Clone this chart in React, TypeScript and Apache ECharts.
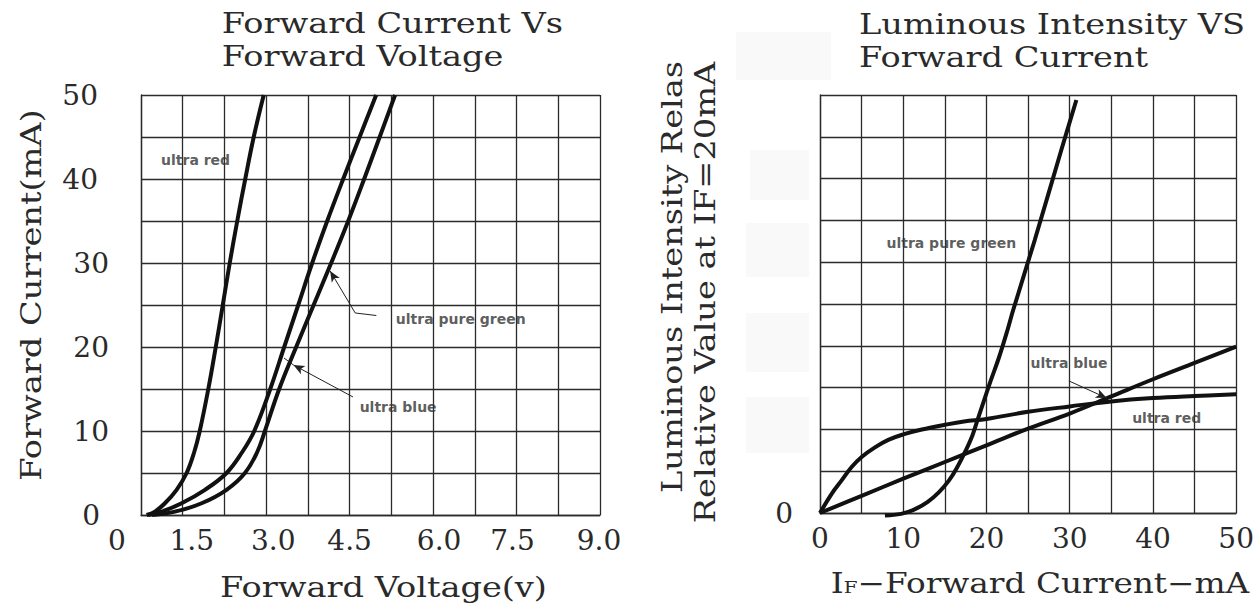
import React, { useEffect, useRef } from "react";
import * as echarts from "echarts";

// ---------- DATA ----------
// Left chart: Forward Current (mA) vs Forward Voltage (V)
const leftUltraRed: [number, number][] = [
  [0.85, 0], [1.0, 0.4], [1.18, 1.4], [1.39, 3], [1.57, 5], [1.707, 7.5], [1.806, 10],
  [1.96, 15], [2.094, 20], [2.22, 25], [2.345, 30], [2.48, 35], [2.624, 40], [2.776, 45], [2.956, 50],
];
const leftUltraBlue: [number, number][] = [
  [0.88, 0], [1.12, 0.4], [1.48, 1.4], [1.9, 3], [2.288, 5], [2.57, 7.5], [2.786, 10],
  [3.073, 15], [3.324, 20], [3.576, 25], [3.827, 30], [4.097, 35], [4.384, 40], [4.68, 45], [4.977, 50],
];
const leftUltraPureGreen: [number, number][] = [
  [0.95, 0], [1.36, 0.4], [1.84, 1.4], [2.288, 3], [2.618, 5], [2.839, 7.5], [2.977, 10],
  [3.234, 15], [3.539, 20], [3.853, 25], [4.168, 30], [4.474, 35], [4.761, 40], [5.04, 45], [5.317, 50],
];
const leftXTickValues = [0.75, 1.5, 3, 4.5, 6, 7.5, 9];
const leftXTickLabels = ["0", "1.5", "3.0", "4.5", "6.0", "7.5", "9.0"];
const leftYTickLabels = ["0", "10", "20", "30", "40", "50"];
const leftLabels: [number, number, string][] = [
  [1.11, 42.3, "ultra red"],
  [5.33, 23.3, "ultra pure green"],
  [4.68, 12.8, "ultra blue"],
];
const leftGreenLeader: [number, number][] = [[4.98, 23.75], [4.6, 24.05], [4.15, 29.05]];
const leftBlueLeader: [number, number][] = [[4.56, 14.05], [3.49, 17.86], [3.32, 18.69]];

// Right chart: relative luminous intensity vs forward current (mA)
const rightUltraPureGreen: [number, number][] = [
  [7.8, -0.06], [9.75, -0.02], [11.3, 0.08], [12.9, 0.26], [14.3, 0.5], [15.5, 0.78],
  [16.5, 1.1], [17.5, 1.49], [18.3, 1.85], [18.9, 2.21], [19.7, 2.69], [20.5, 3.16],
  [21.5, 3.72], [22.5, 4.36], [23.2, 4.85], [25.8, 6.53], [29.0, 8.69], [30.8, 9.88],
];
const rightUltraRed: [number, number][] = [
  [0, 0], [1.4, 0.46], [2.6, 0.78], [3.8, 1.1], [5, 1.34], [6.6, 1.57], [8.2, 1.75],
  [10, 1.88], [12.1, 1.99], [15, 2.11], [17.3, 2.19], [20, 2.25], [25, 2.42], [30, 2.55],
  [35, 2.67], [40, 2.75], [45, 2.8], [50, 2.84],
];
const rightUltraBlue: [number, number][] = [
  [0, 0], [5, 0.41], [10, 0.82], [15, 1.22], [20, 1.62], [25, 2.02], [30, 2.38],
  [35, 2.79], [40, 3.2], [45, 3.59], [50, 3.98],
];
const rightXTickLabels = ["0", "10", "20", "30", "40", "50"];
const rightYTickLabels = ["0"];
const rightLabels: [number, number, string][] = [
  [7.98, 6.47, "ultra pure green"],
  [25.3, 3.58, "ultra blue"],
  [37.5, 2.27, "ultra red"],
];
const rightBlueLeader: [number, number][] = [[29.9, 3.16], [34.45, 2.75]];

// ---------- STYLE ----------
const SERIF = '"DejaVu Serif", serif';
const SANS = '"DejaVu Sans", sans-serif';
const INK = "#111";
const GRID = "#2b2b2b";
const TXT = "#2a2a2a";

function leaderSegments(pts: [number, number][], arrowAt: number) {
  const segs: any[] = [];
  for (let i = 0; i < pts.length - 1; i++) {
    segs.push([
      { coord: pts[i], symbol: "none" },
      { coord: pts[i + 1], symbol: i + 1 === arrowAt ? "arrow" : "none", symbolSize: [7, 11] },
    ]);
  }
  return segs;
}

function curve(name: string, data: [number, number][], idx: number) {
  return {
    type: "line",
    name,
    xAxisIndex: idx,
    yAxisIndex: idx,
    data,
    smooth: 0.4,
    symbol: "none",
    clip: false,
    lineStyle: { color: INK, width: 4 },
    z: 3,
  };
}

function annotations(labels: [number, number, string][], idx: number, segs: any[]) {
  return {
    type: "scatter",
    xAxisIndex: idx,
    yAxisIndex: idx,
    data: labels,
    symbolSize: 0,
    silent: true,
    z: 4,
    label: {
      show: true,
      position: "right",
      distance: 0,
      formatter: (p: any) => p.value[2],
      fontFamily: SANS,
      fontWeight: "bold",
      fontSize: 14,
      color: "#333",
    },
    markLine: {
      silent: true,
      animation: false,
      label: { show: false },
      lineStyle: { color: "#222", width: 1, type: "solid" },
      emphasis: { disabled: true },
      data: segs,
    },
  };
}

const tick = (c: string, w = 1.3) => ({ show: true, lineStyle: { color: c, width: w, type: "solid" as const } });
const lbl = { fontFamily: SERIF, fontSize: 28, color: TXT };

function buildOption() {
  const xLeftRich: Record<string, any> = {
    x0: { ...lbl, padding: [0, 48, 0, 0] },
    x1: { ...lbl, padding: [0, 0, 0, 18] },
    x2: { ...lbl, padding: [0, 0, 0, 14] },
    x3: { ...lbl },
    x4: { ...lbl, padding: [0, 0, 0, 12] },
    x5: { ...lbl, padding: [0, 8, 0, 0] },
    x6: { ...lbl, padding: [0, 2, 0, 0] },
  };
  const yLeftRich: Record<string, any> = {
    y0: { ...lbl, padding: [0, 9, 0, 0] },
    y10: { ...lbl },
    y20: { ...lbl },
    y30: { ...lbl },
    y40: { ...lbl, padding: [0, 11, 0, 0] },
    y50: { ...lbl, padding: [0, 11, 0, 0] },
  };

  const titleText = (x: number, y: number, text: string) => ({
    type: "text",
    x,
    y,
    scaleX: 1.2,
    z: 10,
    style: { text, fontFamily: SERIF, fontSize: 28, lineHeight: 33.4, fill: TXT, align: "left", verticalAlign: "middle" },
  });
  const nameText = (x: number, y: number, text: string, rot = 0) => ({
    type: "text",
    x,
    y,
    rotation: rot,
    scaleX: 1.2,
    z: 10,
    style: { text, fontFamily: SERIF, fontSize: 28, fill: TXT, align: "center", verticalAlign: "middle" },
  });
  const faint = (x: number, y: number, w: number, h: number) => ({
    type: "rect",
    z: -10,
    shape: { x, y, width: w, height: h },
    style: { fill: "#f9f9f9" },
  });

  return {
    animation: false,
    backgroundColor: "#fff",
    grid: [
      { left: 141, top: 95, width: 459, height: 420 },
      { left: 820, top: 95, width: 418, height: 418 },
    ],
    xAxis: [
      {
        gridIndex: 0,
        type: "value",
        min: 0.75,
        max: 9,
        interval: 0.75,
        axisLine: tick(GRID),
        axisTick: { show: false },
        splitLine: tick(GRID),
        axisLabel: {
          ...lbl,
          margin: 11,
          rich: xLeftRich,
          formatter: (v: number) => {
            const i = leftXTickValues.findIndex((t) => Math.abs(t - v) < 1e-6);
            return i < 0 ? "" : `{x${i}|${leftXTickLabels[i]}}`;
          },
        },
      },
      {
        gridIndex: 1,
        type: "value",
        min: 0,
        max: 50,
        interval: 5,
        axisLine: tick(GRID),
        axisTick: { show: false },
        splitLine: tick(GRID),
        axisLabel: {
          ...lbl,
          margin: 11,
          formatter: (v: number) => (rightXTickLabels.includes(String(v)) ? String(v) : ""),
        },
      },
    ],
    yAxis: [
      {
        gridIndex: 0,
        type: "value",
        min: 0,
        max: 50,
        interval: 5,
        axisLine: tick(GRID),
        axisTick: { show: false },
        splitLine: tick(GRID),
        axisLabel: {
          ...lbl,
          margin: 32,
          rich: yLeftRich,
          formatter: (v: number) => (leftYTickLabels.includes(String(v)) ? `{y${v}|${v}}` : ""),
        },
      },
      {
        gridIndex: 1,
        type: "value",
        min: 0,
        max: 10,
        interval: 1,
        axisLine: tick(GRID),
        axisTick: { show: false },
        splitLine: tick(GRID),
        axisLabel: {
          ...lbl,
          margin: 27,
          formatter: (v: number) => (rightYTickLabels.includes(String(v)) ? String(v) : ""),
        },
      },
    ],
    series: [
      curve("ultra red", leftUltraRed, 0),
      curve("ultra blue", leftUltraBlue, 0),
      curve("ultra pure green", leftUltraPureGreen, 0),
      annotations(leftLabels, 0, [...leaderSegments(leftGreenLeader, 2), ...leaderSegments(leftBlueLeader, 1)]),
      curve("ultra pure green", rightUltraPureGreen, 1),
      curve("ultra red", rightUltraRed, 1),
      curve("ultra blue", rightUltraBlue, 1),
      annotations(rightLabels, 1, leaderSegments(rightBlueLeader, 1)),
    ],
    graphic: [
      faint(736, 32, 95, 48),
      faint(750, 150, 59, 50),
      faint(746, 223, 63, 54),
      faint(746, 313, 63, 59),
      faint(746, 397, 63, 56),
      titleText(221.7, 39.7, "Forward Current Vs\nForward Voltage"),
      titleText(859, 40.5, "Luminous Intensity VS\nForward Current"),
      nameText(383.5, 586.7, "Forward Voltage(v)"),
      nameText(31.5, 295, "Forward Current(mA)", Math.PI / 2),
      nameText(672, 277, "Luminous Intensity Relas", Math.PI / 2),
      nameText(705, 292.5, "Relative Value at IF=20mA", Math.PI / 2),
      {
        type: "text",
        x: 1040,
        y: 583,
        scaleX: 1.17,
        z: 10,
        style: {
          text: "{n|I}{s|F}{n|−Forward Current−mA}",
          align: "center",
          verticalAlign: "middle",
          fontFamily: SERIF,
          fontSize: 28,
          fill: TXT,
          rich: {
            n: { fontFamily: SERIF, fontSize: 28, fill: TXT, lineHeight: 30 },
            s: { fontFamily: SERIF, fontSize: 17, fill: TXT, lineHeight: 30, verticalAlign: "bottom", padding: [0, 0, 2, 0] },
          },
        },
      },
    ],
  };
}

export default function App() {
  const ref = useRef<HTMLDivElement>(null);
  useEffect(() => {
    if (!ref.current) return;
    const chart = echarts.init(ref.current, null, { renderer: "svg" });
    chart.setOption(buildOption() as any);
    return () => chart.dispose();
  }, []);
  return (
    <div
      ref={ref}
      style={{ position: "fixed", left: 0, top: 0, width: 1257, height: 607, background: "#fff" }}
    />
  );
}
